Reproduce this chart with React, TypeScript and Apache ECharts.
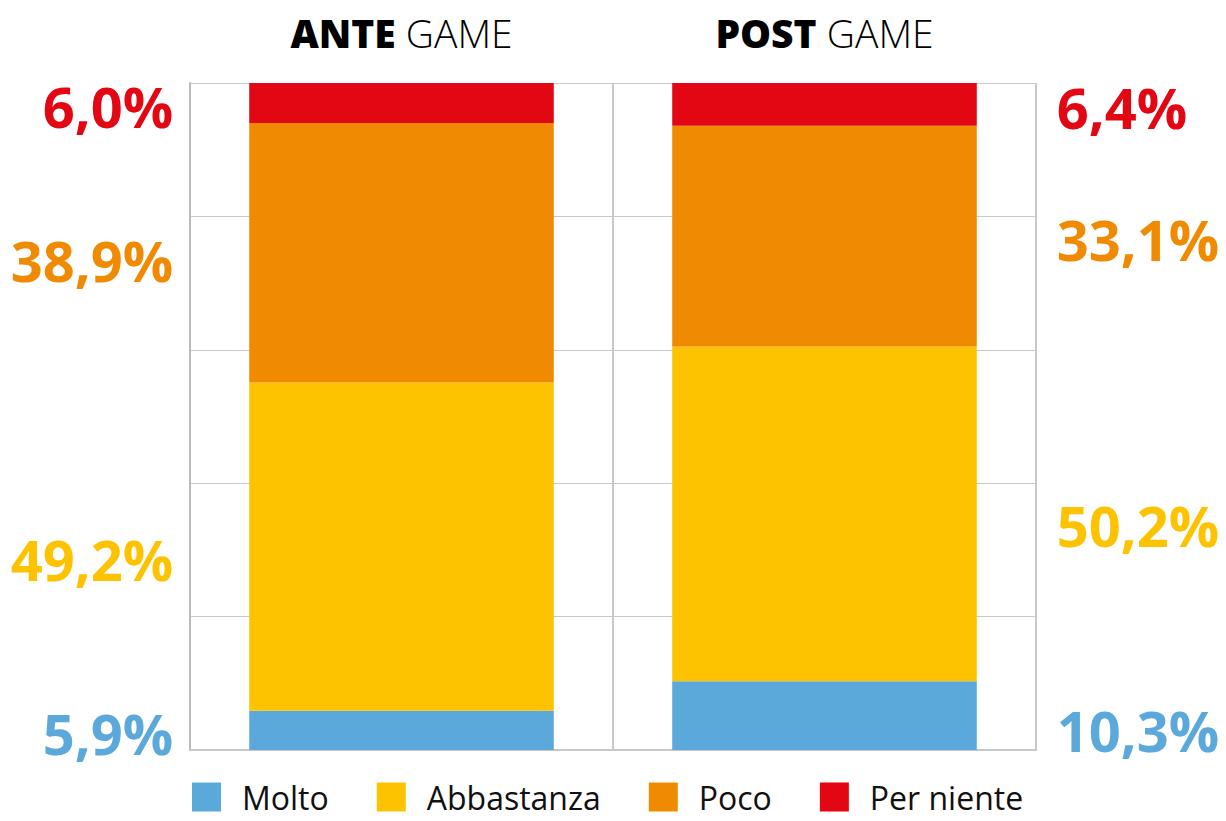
import React, { useEffect, useRef } from "react";
import * as echarts from "echarts";

const categories = ["ANTE", "POST"];
const seriesNames = ["Molto", "Abbastanza", "Poco", "Per niente"];
const molto = [5.9, 10.3];
const abbastanza = [49.2, 50.2];
const poco = [38.9, 33.1];
const perNiente = [6.0, 6.4];
const colors = ["#5BA8DA", "#FDC300", "#F08A00", "#E30613"];
// small vertical nudges of the value labels (style only), per series then category
const labelNudge = [
  [3, 14],
  [12, 11],
  [7, 3],
  [3, 3],
];

const fmt = (v: number) => v.toFixed(1).replace(".", ",") + "%";

export default function App() {
  const ref = useRef<HTMLDivElement>(null);
  useEffect(() => {
    if (!ref.current) return;
    const chart = echarts.init(ref.current, null, { renderer: "svg" });
    const values = [molto, abbastanza, poco, perNiente];
    const series = values.map((vals, si) => ({
      name: seriesNames[si],
      type: "bar",
      stack: "total",
      barWidth: "72%",
      itemStyle: { color: colors[si] },
      data: vals.map((v, di) => ({
        value: v,
        label: {
          show: true,
          position: di === 0 ? "left" : "right",
          distance: di === 0 ? 76 : 80,
          offset: [0, labelNudge[si][di]],
          formatter: () => fmt(v),
          color: colors[si],
          fontFamily: "Open Sans",
          fontWeight: "bold",
          fontSize: 56,
        },
      })),
    }));
    chart.setOption({
      animation: false,
      grid: { left: 190, right: 190, top: 83, bottom: 71 },
      legend: {
        data: seriesNames,
        left: 192,
        top: 781,
        padding: 0,
        icon: "rect",
        itemWidth: 29,
        itemHeight: 29,
        itemGap: 48,
        textStyle: {
          fontFamily: "Open Sans",
          fontSize: 32,
          lineHeight: 30,
          color: "#111",
          padding: [0, 0, 0, 16],
        },
      },
      xAxis: {
        type: "category",
        data: categories,
        position: "top",
        axisLine: { show: true, lineStyle: { color: "#c8c8c8", width: 2 } },
        axisTick: { show: false },
        splitLine: { show: true, lineStyle: { color: "#c8c8c8", width: 2 } },
        axisLabel: {
          margin: 31,
          formatter: (c: string) => `{b|${c}}{l| GAME}`,
          rich: {
            b: {
              fontFamily: "Open Sans",
              fontWeight: 800,
              fontSize: 39,
              color: "#000",
            },
            l: {
              fontFamily: "Open Sans",
              fontWeight: 300,
              fontSize: 39,
              color: "#000",
            },
          },
        },
      },
      yAxis: {
        type: "value",
        min: 0,
        max: 100,
        interval: 20,
        axisLabel: { show: false },
        axisLine: { show: true, lineStyle: { color: "#bbb", width: 2 } },
        axisTick: { show: false },
        splitLine: { show: true, lineStyle: { color: "#c8c8c8", width: 1 } },
      },
      series,
    });
    return () => chart.dispose();
  }, []);
  return (
    <div
      ref={ref}
      style={{ position: "fixed", left: 0, top: 0, width: 1226, height: 821, background: "#fff" }}
    />
  );
}
